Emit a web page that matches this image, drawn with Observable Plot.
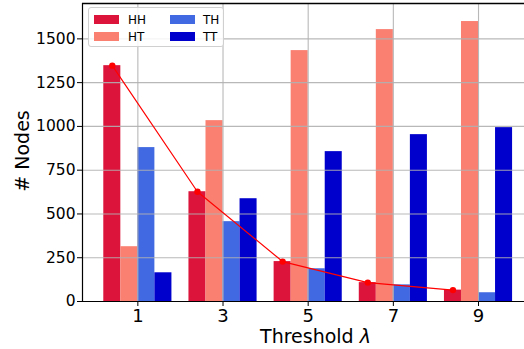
<!DOCTYPE html>
<html>
<head>
<meta charset="utf-8">
<script src="https://cdn.jsdelivr.net/npm/d3@7"></script>
<script src="https://cdn.jsdelivr.net/npm/@observablehq/plot@0.6"></script>
<style>
  html, body { margin: 0; padding: 0; background: #fff; overflow: hidden; }
  #wrap { position: relative; width: 524px; height: 349px; overflow: hidden; font-family: "DejaVu Sans", sans-serif; }
  #wrap svg { display: block; }
  .legend { position: absolute; left: 88px; top: 7px; width: 136px; height: 40px; border: 1px solid #d0d0d0; border-radius: 3px; background: rgba(255,255,255,0.85); box-sizing: border-box; }
  .lg-patch { position: absolute; width: 25px; height: 9px; }
  .lg-text { position: absolute; font-size: 12px; line-height: 12px; color: #000; }
</style>
</head>
<body>
<div id="wrap"></div>
<script>
const thresholds = [1, 3, 5, 7, 9];
const seriesNames = ["HH", "HT", "TH", "TT"];
const HH = [1347, 627, 228, 108, 65];
const HT = [313, 1033, 1433, 1553, 1599];
const TH = [879, 456, 187, 95, 50];
const TT = [164, 587, 856, 953, 993];
const colors = ["#DC143C", "#FA8072", "#4169E1", "#0000CD"];
const yTicks = [0, 250, 500, 750, 1000, 1250, 1500];

const seriesValues = [HH, HT, TH, TT];
const barW = 0.4;
const rows = [];
seriesValues.forEach((vals, si) => {
  vals.forEach((v, ti) => {
    const c = thresholds[ti] + (si - 1.5) * barW;
    rows.push({series: seriesNames[si], x1: c - barW / 2, x2: c + barW / 2, xc: c, value: v, color: colors[si]});
  });
});
const hhRows = rows.filter(d => d.series === "HH");

const xDomain = [-0.3, 10.08];
const yDomain = [0, 1702];

const plot = Plot.plot({
  width: 524,
  height: 349,
  marginLeft: 82,
  marginRight: 0,
  marginTop: 3,
  marginBottom: 48,
  style: {fontFamily: "DejaVu Sans, sans-serif", background: "white", overflow: "visible"},
  x: {domain: xDomain},
  y: {domain: yDomain},
  marks: [
    Plot.rectY(rows, {x1: "x1", x2: "x2", y: "value", fill: "color", insetLeft: 0, insetRight: 0}),
    Plot.ruleY(yTicks, {stroke: "#b0b0b0", strokeWidth: 1.1, strokeOpacity: 0.9}),
    Plot.ruleX(thresholds, {stroke: "#b0b0b0", strokeWidth: 1.1, strokeOpacity: 0.9}),
    Plot.line(hhRows, {x: "xc", y: "value", stroke: "#FF0000", strokeWidth: 1.2}),
    Plot.dot(hhRows, {x: "xc", y: "value", fill: "#FF0000", r: 3.2}),
    Plot.axisY({ticks: yTicks, tickFormat: d => String(d), tickSize: 5, tickPadding: 2, fontSize: 15.5, label: null, stroke: "#000", color: "#000"}),
    Plot.axisX({ticks: thresholds, tickFormat: d => String(d), tickSize: 5, tickPadding: 3, fontSize: 18, label: null, color: "#000"}),
    Plot.ruleX([xDomain[0]], {stroke: "#000", strokeWidth: 1.2}),
    Plot.ruleY([0], {stroke: "#000", strokeWidth: 1.2}),
    Plot.ruleY([yDomain[1]], {stroke: "#000", strokeWidth: 1.4})
  ]
});

const wrap = document.getElementById("wrap");
wrap.appendChild(plot);

const svg = d3.select(plot);
svg.append("text")
  .attr("transform", "translate(29,151) rotate(-90)")
  .attr("text-anchor", "middle")
  .attr("font-size", 19)
  .attr("font-family", "DejaVu Sans, sans-serif")
  .attr("fill", "#000")
  .text("# Nodes");
const xl = svg.append("text")
  .attr("x", 315.5)
  .attr("y", 343)
  .attr("text-anchor", "middle")
  .attr("font-size", 19)
  .attr("font-family", "DejaVu Sans, sans-serif")
  .attr("fill", "#000");
xl.append("tspan").text("Threshold ");
xl.append("tspan").attr("font-style", "italic").text("λ");

// legend
const lg = document.createElement("div");
lg.className = "legend";
wrap.appendChild(lg);
seriesNames.forEach((name, i) => {
  const col = Math.floor(i / 2), row = i % 2;
  const p = document.createElement("div");
  p.className = "lg-patch";
  p.style.left = (5 + col * 76) + "px";
  p.style.top = (7 + row * 17) + "px";
  p.style.background = colors[i];
  lg.appendChild(p);
  const t = document.createElement("div");
  t.className = "lg-text";
  t.style.left = (39 + col * 75) + "px";
  t.style.top = (6 + row * 17) + "px";
  t.textContent = name;
  lg.appendChild(t);
});
</script>
</body>
</html>
